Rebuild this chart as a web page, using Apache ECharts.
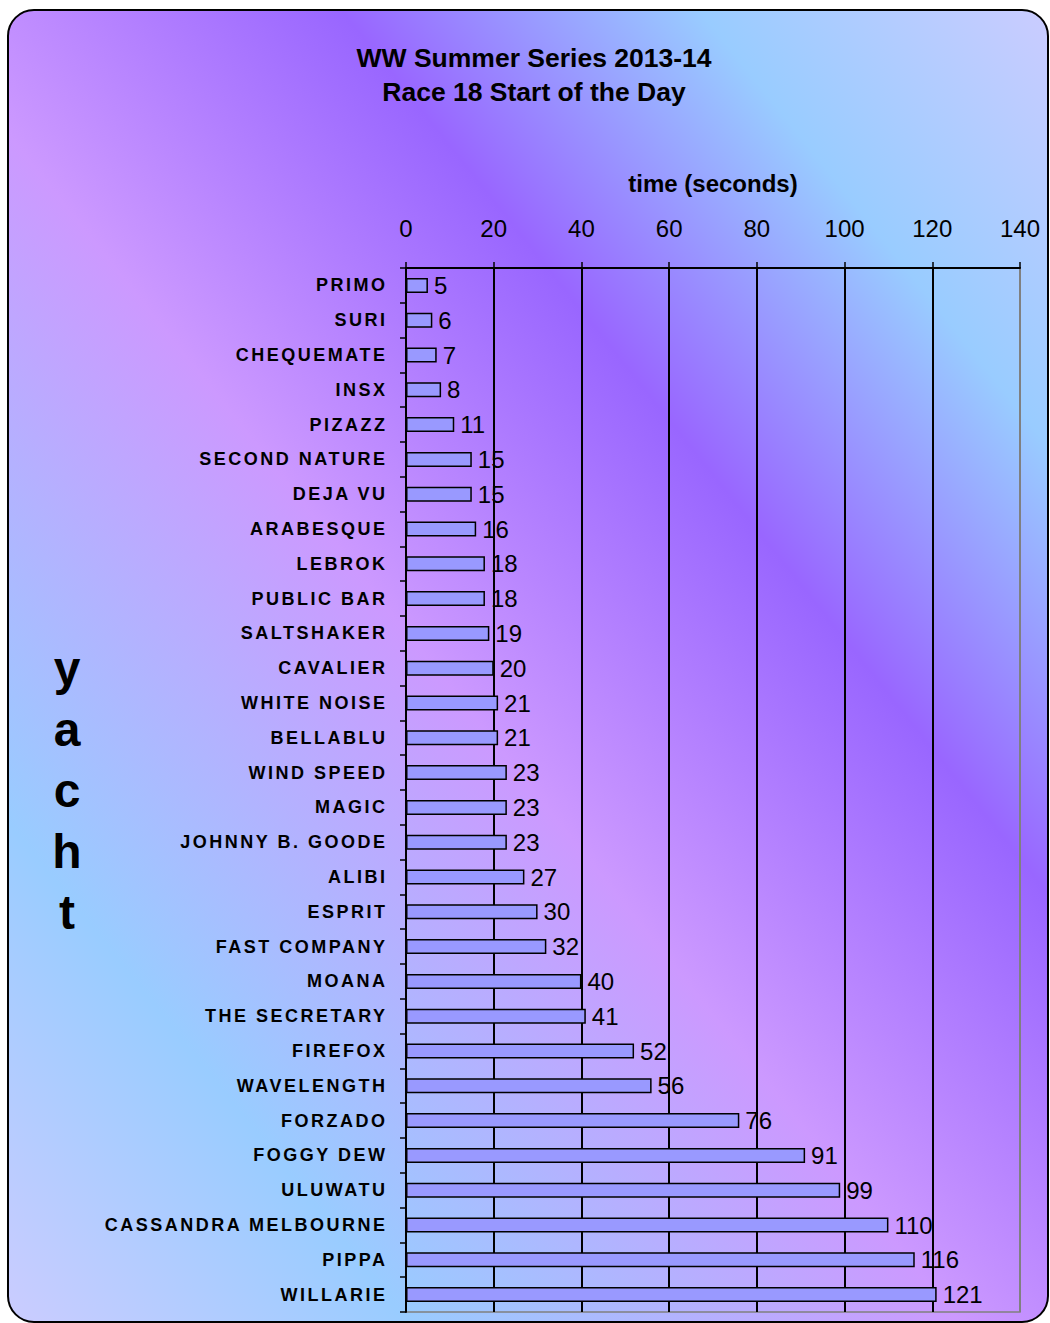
<!DOCTYPE html>
<html>
<head>
<meta charset="utf-8">
<script src="https://cdn.jsdelivr.net/npm/echarts@6/dist/echarts.min.js"></script>
<style>html,body{margin:0;padding:0;background:#fff;}#c{width:1050px;height:1323px;}</style>
</head>
<body>
<div id="c"></div>
<script>
const titleLines = ['WW Summer Series 2013-14', 'Race 18 Start of the Day'];
const categories = ['PRIMO','SURI','CHEQUEMATE','INSX','PIZAZZ','SECOND NATURE','DEJA VU','ARABESQUE','LEBROK','PUBLIC BAR','SALTSHAKER','CAVALIER','WHITE NOISE','BELLABLU','WIND SPEED','MAGIC','JOHNNY B. GOODE','ALIBI','ESPRIT','FAST COMPANY','MOANA','THE SECRETARY','FIREFOX','WAVELENGTH','FORZADO','FOGGY DEW','ULUWATU','CASSANDRA MELBOURNE','PIPPA','WILLARIE'];
const times = [5,6,7,8,11,15,15,16,18,18,19,20,21,21,23,23,23,27,30,32,40,41,52,56,76,91,99,110,116,121];
const xMin = 0, xMax = 140, xStep = 20;
const xName = 'time (seconds)';
const yName = 'yacht';

const FONT = '"Liberation Sans", Arial, sans-serif';
const chart = echarts.init(document.getElementById('c'), null, {renderer: 'svg'});

const bg = new echarts.graphic.LinearGradient(0, 1323, 1285.6, 294.5, [
  {offset: 0, color: '#ccccff'},
  {offset: 0.194, color: '#99ccff'},
  {offset: 0.455, color: '#cc99ff'},
  {offset: 0.66, color: '#9966ff'},
  {offset: 0.83, color: '#99ccff'},
  {offset: 1, color: '#ccccff'}
], true);

const nLines = (xMax - xMin) / xStep + 1;
const splitColors = [];
for (let i = 0; i < nLines; i++) splitColors.push(i === nLines - 1 ? '#808080' : '#000000');

chart.setOption({
  animation: false,
  backgroundColor: '#ffffff',
  graphic: [{
    type: 'rect', z: -100, silent: true,
    shape: {x: 8, y: 10, width: 1040, height: 1312, r: 26},
    style: {fill: bg, stroke: '#000', lineWidth: 2}
  }],
  title: {
    text: titleLines.join('\n'),
    left: 534, top: 41, padding: 0, textAlign: 'center',
    textStyle: {fontFamily: FONT, fontSize: 26.5, fontWeight: 'bold', color: '#000', lineHeight: 34}
  },
  grid: {left: 406, right: 30, top: 268, bottom: 11, show: true, borderColor: '#808080', borderWidth: 1.5, backgroundColor: 'transparent'},
  xAxis: {
    type: 'value', position: 'top', min: xMin, max: xMax, interval: xStep,
    name: xName, nameLocation: 'middle', nameGap: 73,
    nameTextStyle: {fontFamily: FONT, fontSize: 24, fontWeight: 'bold', color: '#000'},
    axisLine: {show: true, lineStyle: {color: '#000', width: 2}},
    axisTick: {show: true, length: 6, lineStyle: {color: '#000', width: 1.5}},
    axisLabel: {fontFamily: FONT, fontSize: 24, color: '#000', margin: 28},
    splitLine: {show: true, lineStyle: {color: splitColors, width: 2}}
  },
  yAxis: {
    type: 'category', inverse: true, data: categories,
    name: yName.split('').join('\n'), nameLocation: 'middle', nameGap: 339, nameRotate: 0,
    nameTextStyle: {fontFamily: FONT, fontSize: 48, fontWeight: 'bold', color: '#000', lineHeight: 61, align: 'center', verticalAlign: 'middle'},
    axisLine: {show: true, lineStyle: {color: '#000', width: 2}},
    axisTick: {show: true, length: 6, lineStyle: {color: '#000', width: 1.5}},
    axisLabel: {fontFamily: FONT, fontSize: 18, fontWeight: 'bold', color: '#000', margin: 18.5, interval: 0},
    splitLine: {show: false}
  },
  series: [{
    type: 'bar', data: times, barWidth: 15,
    itemStyle: {color: '#9999ff', borderColor: '#000', borderWidth: 1.5},
    label: {show: true, position: 'right', distance: 6, fontFamily: FONT, fontSize: 24, color: '#000'}
  }]
});

function applySpacing() {
  const set = new Set(categories);
  document.querySelectorAll('#c text').forEach(function (t) {
    if (set.has(t.textContent)) t.setAttribute('letter-spacing', '2.5');
  });
}
applySpacing();
chart.on('finished', applySpacing);
</script>
</body>
</html>
